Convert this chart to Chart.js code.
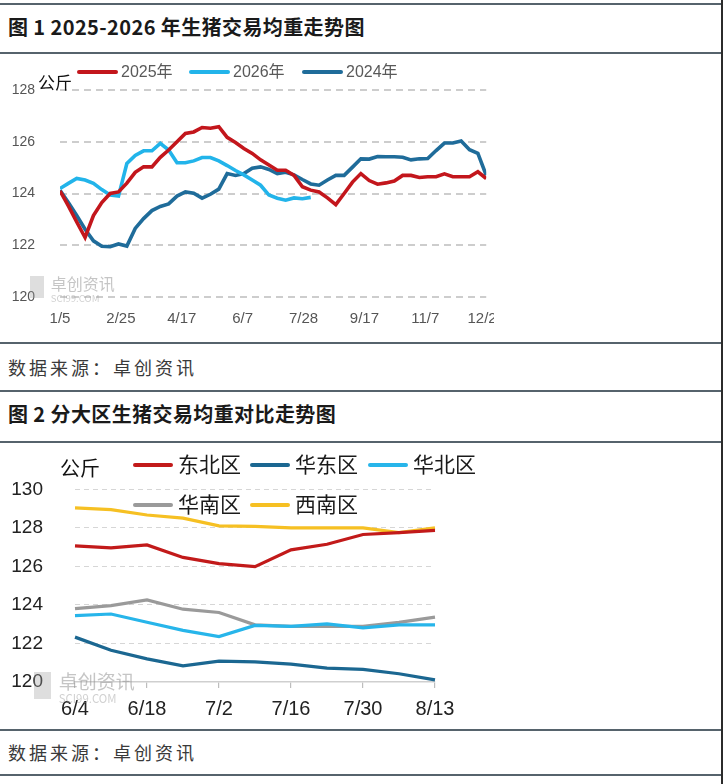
<!DOCTYPE html>
<html><head><meta charset="utf-8">
<script src="https://cdn.jsdelivr.net/npm/chart.js@4.4.1/dist/chart.umd.min.js"></script>
<style>
html,body{margin:0;padding:0;background:#fff;}
#page{position:relative;width:724px;height:784px;overflow:hidden;background:#fff;font-family:'Noto Sans CJK SC',sans-serif;}
.hr{position:absolute;left:0;width:723px;height:2px;background:#56636c;}
.vr{position:absolute;top:0;left:721px;width:2px;height:784px;background:#2b2b2b;}
.title{position:absolute;left:8px;font-weight:700;font-size:20px;color:#1a1a1a;line-height:24px;white-space:nowrap;letter-spacing:0.4px;}
.src{position:absolute;left:8px;font-size:18px;color:#3a3a3a;letter-spacing:3px;line-height:22px;white-space:nowrap;}
.abs{position:absolute;white-space:nowrap;}
.wm{position:absolute;white-space:nowrap;color:rgba(150,150,150,0.55);}
</style></head>
<body>
<div id="page">
  <div class="hr" style="top:3px"></div>
  <div class="title" style="top:15px">图 1 2025-2026 年生猪交易均重走势图</div>
  <div class="hr" style="top:52px"></div>
  <div id="clip1" style="position:absolute;left:0;top:56px;width:494px;height:280px;overflow:hidden;">
    <canvas id="c1" width="510" height="280"></canvas>
  </div>
  <div class="hr" style="top:342px"></div>
  <div class="src" style="top:356px">数据来源：卓创资讯</div>
  <div class="hr" style="top:390px"></div>
  <div class="title" style="top:402px">图 2 分大区生猪交易均重对比走势图</div>
  <div class="hr" style="top:441px"></div>
  <div style="position:absolute;left:0;top:446px;width:470px;height:282px;">
    <canvas id="c2" width="470" height="282"></canvas>
  </div>
  <div class="hr" style="top:729px"></div>
  <div class="src" style="top:741px">数据来源：卓创资讯</div>
  <div class="hr" style="top:774px"></div>
  <div class="vr"></div>
</div>
<script>
// ---------------- Chart 1 data ----------------
const weeks1 = ['1/5','1/12','1/19','1/26','2/2','2/9','2/16','2/23','3/2','3/9','3/16','3/23','3/30',
  '4/6','4/13','4/20','4/27','5/4','5/11','5/18','5/25','6/1','6/8','6/15','6/22','6/29',
  '7/6','7/13','7/20','7/27','8/3','8/10','8/17','8/24','8/31','9/7','9/14','9/21','9/28',
  '10/5','10/12','10/19','10/26','11/2','11/9','11/16','11/23','11/30','12/7','12/14','12/21','12/28'];
const tickLabels1 = ['1/5','2/25','4/17','6/7','7/28','9/17','11/7','12/28'];
const seriesNames1 = ['2025年','2026年','2024年'];
const values2025 = [124.1,123.52,122.9,122.3,123.15,123.65,124.0,124.06,124.4,124.82,125.03,125.03,125.4,
  125.68,126.0,126.32,126.38,126.55,126.52,126.58,126.17,125.97,125.74,125.55,125.3,125.1,
  124.9,124.9,124.7,124.26,124.13,124.06,123.83,123.57,124.0,124.44,124.77,124.5,124.36,
  124.41,124.48,124.7,124.7,124.62,124.65,124.65,124.76,124.65,124.65,124.65,124.84,124.58];
const values2026 = [124.19,124.39,124.58,124.52,124.39,124.15,123.94,123.9,125.16,125.47,125.65,125.65,125.94,
  125.68,125.19,125.19,125.26,125.39,125.39,125.26,125.08,124.89,124.72,124.52,124.32,123.94,
  123.82,123.74,123.83,123.8,123.85];
const values2024 = [124.13,123.65,123.15,122.62,122.17,121.96,121.94,122.05,121.97,122.65,123.03,123.34,123.5,
  123.6,123.9,124.06,124.01,123.82,123.97,124.17,124.77,124.7,124.77,124.98,125.03,124.93,
  124.77,124.82,124.72,124.54,124.37,124.32,124.52,124.7,124.7,125.02,125.34,125.33,125.43,
  125.42,125.42,125.4,125.3,125.34,125.35,125.66,125.95,125.95,126.03,125.69,125.55,124.7];
const colors1 = ['#c3161c','#22b4ea','#1f6c9a'];

// ---------------- Chart 2 data ----------------
const categories2 = ['6/4','6/11','6/18','6/25','7/2','7/9','7/16','7/23','7/30','8/6','8/13'];
const seriesNames2 = ['东北区','华东区','华北区','华南区','西南区'];
const northeast = [127.07,126.96,127.12,126.47,126.15,125.99,126.86,127.15,127.66,127.76,127.87];
const eastChina = [122.33,121.65,121.2,120.84,121.08,121.04,120.93,120.72,120.66,120.43,120.11];
const northChina = [123.45,123.53,123.1,122.68,122.36,122.94,122.89,123.02,122.81,122.97,122.97];
const southChina = [123.81,123.97,124.26,123.78,123.61,122.97,122.89,122.89,122.89,123.1,123.37];
const southwest = [129.04,128.95,128.67,128.51,128.11,128.08,128.0,128.0,128.0,127.76,128.0];
const colors2 = ['#c21a1a','#1b6791','#27b5ea','#9a9a9a','#f6c023'];

// day offset from 1/5 (non-leap year)
const monthStart = [0,31,59,90,120,151,181,212,243,273,304,334];
function dayOf(label){ const p = label.split('/'); return monthStart[+p[0]-1] + (+p[1]) - 5; }

const latin = "'Liberation Sans', Arial, sans-serif";
const page = document.getElementById('page');
function addLegend(x, y, w, thick, color, text, fontSize, textColor, gap){
  const ln = document.createElement('div');
  ln.style.cssText = `position:absolute;left:${x}px;top:${y-thick/2}px;width:${w}px;height:${thick}px;background:${color};border-radius:${thick/2}px;`;
  page.appendChild(ln);
  const t = document.createElement('div');
  t.className = 'abs';
  t.style.cssText += `left:${x+w+gap}px;top:${y-fontSize*0.62}px;font-size:${fontSize}px;line-height:${fontSize*1.2}px;color:${textColor};font-family:'Liberation Sans', Arial, 'Noto Sans CJK SC', sans-serif;`;
  t.textContent = text;
  page.appendChild(t);
}
function addText(x, y, text, size, color, cls){
  const t = document.createElement('div');
  t.className = cls || 'abs';
  t.style.cssText += `left:${x}px;top:${y}px;font-size:${size}px;line-height:${size*1.2}px;color:${color};`;
  t.textContent = text;
  page.appendChild(t);
}

// chart 1 labels / legend
addText(38, 72, '公斤', 17, '#111');
const leg1X = [77, 189, 302];
seriesNames1.forEach((n,i)=> addLegend(leg1X[i], 72, 41, 4, colors1[i], n, 16, '#595959', 3));
// chart 2 labels / legend
addText(60, 456, '公斤', 20, '#111');
const leg2Pos = [[133,465],[250,465],[368,465],[133,505],[250,505]];
seriesNames2.forEach((n,i)=> addLegend(leg2Pos[i][0], leg2Pos[i][1], 40, 4, colors2[i], n, 21, '#1a1a1a', 5));

// watermarks
function watermark(x, y, s){
  const sq = document.createElement('div');
  sq.style.cssText = `position:absolute;left:${x}px;top:${y}px;width:${s*0.9}px;height:${s*1.4}px;background:rgba(160,160,160,0.35);`;
  page.appendChild(sq);
  addText(x + s*1.3, y - 2, '卓创资讯', s, 'rgba(150,150,150,0.55)', 'wm');
  addText(x + s*1.3, y + s*1.05, 'SCI99.COM', s*0.6, 'rgba(150,150,150,0.45)', 'wm');
}
watermark(30, 276, 16);
watermark(34, 672, 19);

// ---------------- Chart 1 ----------------
const toPts = arr => arr.map((v,i)=>({x: dayOf(weeks1[i]), y: v}));
new Chart(document.getElementById('c1'), {
  type: 'line',
  data: { datasets: [values2025, values2026, values2024].map((arr,i)=>({
    label: seriesNames1[i], data: toPts(arr), borderColor: colors1[i], backgroundColor: colors1[i],
    borderWidth: 3.6, pointRadius: 0, tension: 0, fill: false })) },
  options: {
    responsive: false, animation: false, events: [],
    layout: { padding: { top: 34, right: 20, left: 0, bottom: 0 } },
    plugins: { legend: { display: false }, tooltip: { enabled: false } },
    scales: {
      x: { type: 'linear', min: 0, max: dayOf(tickLabels1[tickLabels1.length-1]),
        afterBuildTicks: s => { s.ticks = tickLabels1.map(l => ({ value: dayOf(l) })); },
        afterFit: s => { s.height = 39; },
        ticks: { callback: (v) => { const i = tickLabels1.findIndex(l => dayOf(l) === v); return i >= 0 ? tickLabels1[i] : ''; },
          font: { family: latin, size: 15 }, color: '#555', padding: 5, maxRotation: 0, autoSkip: false },
        grid: { display: false }, border: { display: false } },
      y: { min: 120, max: 128,
        afterFit: s => { s.width = 60; },
        ticks: { stepSize: 2, font: { family: latin, size: 14 }, color: '#555', padding: 25 },
        grid: { color: '#cdcdcd', lineWidth: 2, drawTicks: false },
        border: { display: false, dash: [7,5] } }
    }
  }
});

// ---------------- Chart 2 ----------------
new Chart(document.getElementById('c2'), {
  type: 'line',
  data: { labels: categories2, datasets: [northeast, eastChina, northChina, southChina, southwest].map((arr,i)=>({
    label: seriesNames2[i], data: arr, borderColor: colors2[i], backgroundColor: colors2[i],
    borderWidth: 3.2, pointRadius: 0, tension: 0, fill: false })) },
  options: {
    responsive: false, animation: false, events: [],
    layout: { padding: { top: 28, right: 35, left: 0, bottom: 0 } },
    plugins: { legend: { display: false }, tooltip: { enabled: false } },
    scales: {
      x: { type: 'category', offset: false,
        afterFit: s => { s.height = 46; },
        ticks: { callback: function(v, i){ return i % 2 === 0 ? categories2[i] : null; },
          autoSkip: false, maxRotation: 0, font: { family: latin, size: 20 }, color: '#222', padding: 9 },
        grid: { drawOnChartArea: false, drawTicks: true, tickLength: 6, color: '#bdbdbd', lineWidth: 1.2 },
        border: { display: true, color: '#cfcfcf', width: 1.5 } },
      y: { min: 120, max: 130,
        afterFit: s => { s.width = 75; },
        ticks: { stepSize: 2, font: { family: latin, size: 19 }, color: '#222', padding: 32 },
        grid: { color: c => c.tick && c.tick.value === 120 ? 'rgba(0,0,0,0)' : '#d6d6d6', lineWidth: 1, drawTicks: false },
        border: { display: false, dash: [5,4] } }
    }
  }
});
</script>
</body></html>
